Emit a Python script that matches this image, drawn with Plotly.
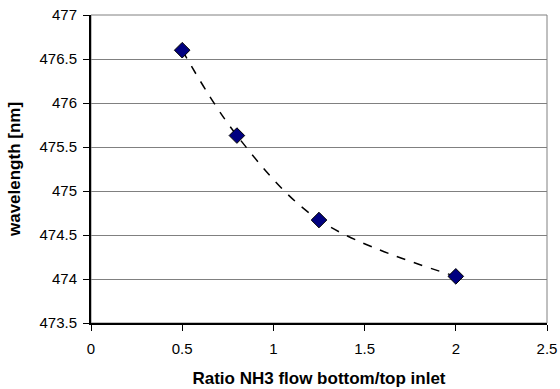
import plotly.graph_objects as go

ratio = [0.5, 0.8, 1.25, 2.0]
wavelength = [476.6, 475.63, 474.67, 474.03]
x_ticks = [0, 0.5, 1, 1.5, 2, 2.5]
x_labels = ["0", "0.5", "1", "1.5", "2", "2.5"]
y_ticks = [473.5, 474, 474.5, 475, 475.5, 476, 476.5, 477]
y_labels = ["473.5", "474", "474.5", "475", "475.5", "476", "476.5", "477"]

fig = go.Figure()
fig.add_trace(go.Scatter(
    x=ratio, y=wavelength, mode="lines+markers",
    line=dict(color="black", width=1.5, dash="dash", shape="spline", smoothing=1),
    marker=dict(symbol="diamond", size=12, color="#000080", line=dict(color="black", width=1)),
    showlegend=False,
))

font = dict(family="Liberation Sans, Arial", size=15, color="black")
fig.update_layout(
    width=560, height=389,
    margin=dict(l=91, r=13, t=15, b=66),
    paper_bgcolor="white", plot_bgcolor="white",
    font=font,
    shapes=[dict(type="rect", xref="paper", yref="paper", x0=0, y0=0, x1=1, y1=1,
                 line=dict(color="#808080", width=1), layer="below")],
)
fig.update_xaxes(
    range=[0, 2.5], tickvals=x_ticks, ticktext=x_labels, automargin=False,
    showgrid=False, zeroline=False, showline=True, linecolor="black", linewidth=2,
    ticks="outside", ticklen=6, tickcolor="black", tickwidth=1, ticklabelstandoff=5,
    title=dict(text="<b>Ratio NH3 flow bottom/top inlet</b>", font=dict(size=17), standoff=16),
)
fig.update_yaxes(
    range=[473.5, 477], tickvals=y_ticks, ticktext=y_labels, automargin=False,
    showgrid=True, gridcolor="#808080", gridwidth=1, zeroline=False,
    showline=True, linecolor="black", linewidth=2,
    ticks="outside", ticklen=6, tickcolor="black", tickwidth=1, ticklabelstandoff=3,
    title=dict(text="<b>wavelength [nm]</b>", font=dict(size=17), standoff=15),
)
fig.write_html("out.html")
